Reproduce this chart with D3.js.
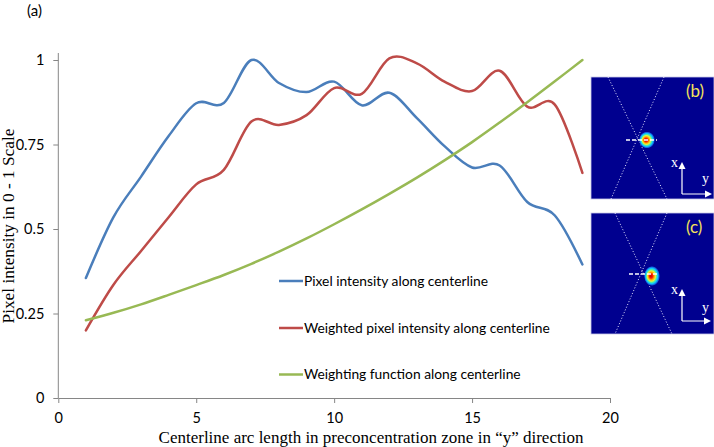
<!DOCTYPE html>
<html>
<head>
<meta charset="utf-8">
<script src="https://cdn.jsdelivr.net/npm/d3@7"></script>
<style>
  html, body { margin: 0; padding: 0; background: #fff; }
  svg { display: block; }
</style>
</head>
<body>
<svg id="chart" width="714" height="447"></svg>
<script>
// ---------------- data ----------------
const arcLength = [1, 2, 3, 4, 5, 6, 7, 8, 9, 10, 11, 12, 13, 14, 15, 16, 17, 18, 19];
const pixelIntensity = [0.355, 0.535, 0.655, 0.775, 0.872, 0.873, 1.0, 0.932, 0.905, 0.936, 0.866, 0.903, 0.828, 0.745, 0.682, 0.688, 0.58, 0.54, 0.395];
const weightedIntensity = [0.20, 0.335, 0.435, 0.535, 0.632, 0.675, 0.818, 0.808, 0.837, 0.917, 0.90, 1.005, 0.99, 0.936, 0.908, 0.968, 0.862, 0.868, 0.666];
const weightingFunction = [0.23, 0.252, 0.277, 0.305, 0.334, 0.364, 0.397, 0.433, 0.472, 0.514, 0.558, 0.604, 0.652, 0.703, 0.757, 0.815, 0.875, 0.937, 1.0];
const seriesNames = ["Pixel intensity along centerline", "Weighted pixel intensity along centerline", "Weighting function along centerline"];
const seriesColors = ["#4A7EBB", "#BE4B48", "#98B954"];
const xTicks = [0, 5, 10, 15, 20];
const yTicks = [0, 0.25, 0.5, 0.75, 1];
const yTickLabels = ["0", "0.25", "0.5", "0.75", "1"];
const xTitle = "Centerline arc length in preconcentration zone in \u201Cy\u201D direction";
const yTitle = "Pixel intensity in 0 - 1 Scale";

// ---------------- drawing ----------------
const svg = d3.select("#chart");
const sansFont = "Lato, 'Open Sans', sans-serif";
const serifFont = "'Liberation Serif', 'DejaVu Serif', serif";
const axisColor = "#868686";

const x = d3.scaleLinear().domain([0, 20]).range([58.3, 610]);
const y = d3.scaleLinear().domain([0, 1]).range([398, 60]);

// y axis
const yAxis = svg.append("g").attr("transform", `translate(${x(0)},0)`)
  .call(d3.axisLeft(y).tickValues(yTicks).tickFormat((d, i) => yTickLabels[i]).tickSize(5).tickSizeOuter(0).tickPadding(9));
yAxis.select(".domain").attr("d", `M0,${y(0)}V53`).attr("stroke", axisColor);
yAxis.selectAll(".tick line").attr("stroke", axisColor);
yAxis.selectAll("text").attr("font-family", sansFont).attr("font-size", 14.5).attr("fill", "#000");

// x axis
const xAxis = svg.append("g").attr("transform", `translate(0,${y(0)})`)
  .call(d3.axisBottom(x).tickValues(xTicks).tickSize(5).tickSizeOuter(0).tickPadding(9.5));
xAxis.select(".domain").attr("stroke", axisColor);
xAxis.selectAll(".tick line").attr("stroke", axisColor);
xAxis.selectAll("text").attr("font-family", sansFont).attr("font-size", 14.5).attr("fill", "#000");

// lines
const line = d3.line().x((d, i) => x(arcLength[i])).y(d => y(d)).curve(d3.curveCardinal.tension(0));
const allSeries = [pixelIntensity, weightedIntensity, weightingFunction];
svg.append("g").selectAll("path").data(allSeries).join("path")
  .attr("d", line)
  .attr("fill", "none")
  .attr("stroke", (d, i) => seriesColors[i])
  .attr("stroke-width", 2.5)
  .attr("stroke-linejoin", "round")
  .attr("stroke-linecap", "round");

// legend
const legendY = [281, 328, 374.5];
const legend = svg.append("g");
seriesNames.forEach((name, i) => {
  legend.append("line").attr("x1", 279).attr("x2", 303).attr("y1", legendY[i]).attr("y2", legendY[i])
    .attr("stroke", seriesColors[i]).attr("stroke-width", 2.5);
  legend.append("text").attr("x", 304).attr("y", legendY[i] + 4.8)
    .attr("font-family", sansFont).attr("font-size", 13.8).attr("fill", "#000").text(name);
});

// axis titles
svg.append("text").attr("x", 371).attr("y", 443).attr("text-anchor", "middle")
  .attr("font-family", serifFont).attr("font-size", 17).attr("fill", "#000").text(xTitle);
svg.append("text").attr("transform", "translate(14,226) rotate(-90)").attr("text-anchor", "middle")
  .attr("font-family", serifFont).attr("font-size", 17.3).attr("fill", "#000").text(yTitle);

// panel label
svg.append("text").attr("x", 27).attr("y", 16).attr("font-family", sansFont).attr("font-size", 15)
  .attr("fill", "#000").text("(a)");

// ---------------- insets (b), (c) ----------------
const defs = svg.append("defs");
const grad = defs.append("radialGradient").attr("id", "blob").attr("cx", "50%").attr("cy", "50%").attr("r", "50%")
  .attr("fx", "42%").attr("fy", "50%");
[["0%", "#c00000"], ["22%", "#ff2000"], ["38%", "#ffb000"], ["52%", "#e8f040"], ["64%", "#50f0a0"], ["76%", "#10c8ff"], ["90%", "#1060e0"], ["100%", "#00008f"]]
  .forEach(s => grad.append("stop").attr("offset", s[0]).attr("stop-color", s[1]));

const insets = [
  { label: "(b)", box: [591, 77, 123, 122], l1: [17, 0, 76, 122], l2: [73, 0, 20, 122], dash: [35, 66, 63], blob: [56, 63, 8, 8.5], ax: [91, 117, 86, 121], xl: [80, 90], yl: [111, 106] },
  { label: "(c)", box: [591, 213, 123, 121], l1: [24, 0, 81, 121], l2: [76, 0, 24, 121], dash: [38, 68, 61], blob: [61, 63, 8, 10], ax: [91, 108, 77, 120], xl: [80, 81], yl: [111, 99] }
];
insets.forEach(ins => {
  const g = svg.append("g").attr("transform", `translate(${ins.box[0]},${ins.box[1]})`);
  g.append("rect").attr("width", ins.box[2]).attr("height", ins.box[3]).attr("fill", "#00008f")
    .attr("stroke", "#c8c8e8").attr("stroke-width", 0.8);
  [ins.l1, ins.l2].forEach(l => g.append("line").attr("x1", l[0]).attr("y1", l[1]).attr("x2", l[2]).attr("y2", l[3])
    .attr("stroke", "#e8e8ff").attr("stroke-width", 1).attr("stroke-dasharray", "1,2"));
  g.append("ellipse").attr("cx", ins.blob[0]).attr("cy", ins.blob[1]).attr("rx", ins.blob[2]).attr("ry", ins.blob[3])
    .attr("fill", "url(#blob)");
  g.append("line").attr("x1", ins.dash[0]).attr("x2", ins.dash[1]).attr("y1", ins.dash[2]).attr("y2", ins.dash[2])
    .attr("stroke", "#fff").attr("stroke-width", 1.3).attr("stroke-dasharray", "4,2");
  // axes arrows
  const a = ins.ax;
  g.append("path").attr("d", `M${a[0]},${a[1]}V${a[2] + 4}M${a[0]},${a[1]}H${a[3] - 5}`)
    .attr("stroke", "#fff").attr("stroke-width", 1.2).attr("fill", "none");
  g.append("path").attr("d", `M${a[0] - 3.5},${a[2] + 6}L${a[0]},${a[2] - 1}L${a[0] + 3.5},${a[2] + 6}Z`).attr("fill", "#fff");
  g.append("path").attr("d", `M${a[3] - 7},${a[1] - 3.5}L${a[3]},${a[1]}L${a[3] - 7},${a[1] + 3.5}Z`).attr("fill", "#fff");
  g.append("text").attr("x", ins.xl[0]).attr("y", ins.xl[1]).attr("font-family", serifFont).attr("font-size", 14)
    .attr("fill", "#fff").text("x");
  g.append("text").attr("x", ins.yl[0]).attr("y", ins.yl[1]).attr("font-family", serifFont).attr("font-size", 14)
    .attr("fill", "#fff").text("y");
  g.append("text").attr("x", 95).attr("y", 20).attr("font-family", sansFont).attr("font-size", 17)
    .attr("fill", "#f5e35a").text(ins.label);
});
</script>
</body>
</html>
